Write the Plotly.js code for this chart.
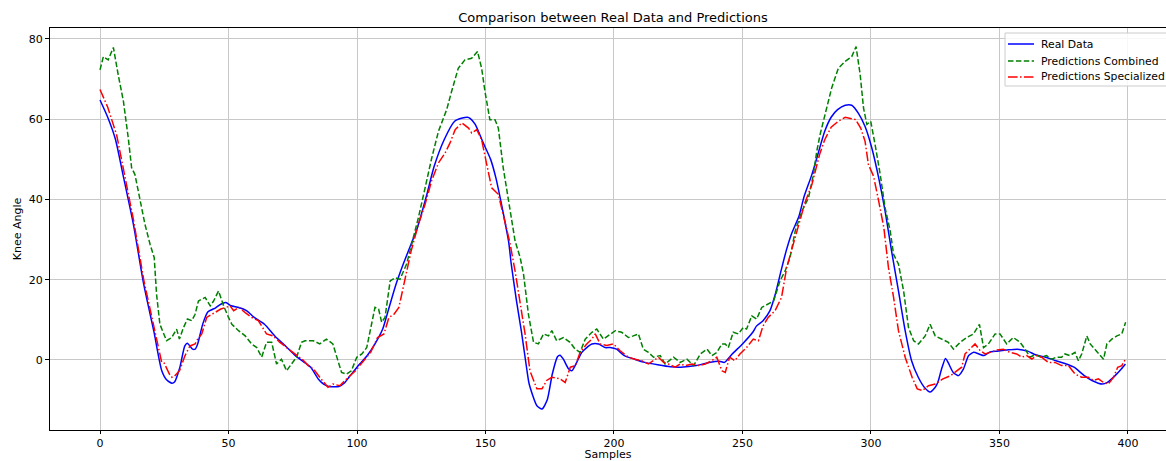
<!DOCTYPE html>
<html>
<head>
<meta charset="utf-8">
<script src="https://cdn.plot.ly/plotly-3.0.1.min.js"></script>
<style>
html,body{margin:0;padding:0;background:#fff;overflow:hidden;}
#chart{width:1166px;height:461px;}
</style>
</head>
<body>
<div id="chart"></div>
<script>
// Real Data (sample index, knee angle)
const realX = [0,3,6,9,13,17,21,24,26,28,29,31,33,34,36,37,38,40,42,45,47,49,51,54,57,60,64,68,72,76,80,82,85,87,89,93,95,97,100,104,107,110,112,115,118,121,123,127,130,134,138,141,143,144,146,149,152,154,156,159,160,162,164,166,167,170,172,174,176,178,179,180.3,182.3,183.6,185.5,187.5,189.4,191.4,194,196.6,198.5,201,204,208,212,217,222,226,232,237,241,243,246,250,254,255.5,258,260.7,262.6,265,267,269,272,274,277,279.5,282,284.5,287,290,292.5,295,297.7,300.3,303,305.5,308,310.7,313.3,315.8,318.4,321,323,325,326,327.5,329,330,332,334,336,338,340,342,344,346,349,353,357,361,364,368,372,376,379,383,386,390,392,395,397.5,399];
const realY = [64.8,60.5,55,46,33.8,18.9,7,-2.6,-5,-5.8,-5.5,-2,3.5,4.2,2.7,2.7,4,9,12,13,13.9,14.3,13.5,13.1,12.3,10.6,8.9,6,3.6,1.1,-0.8,-1.8,-4.8,-6,-6.6,-6.6,-5.8,-4.2,-1.8,1.1,4,7.7,12,18.5,23.9,28.8,32,40.8,48.2,55,59.5,60.3,60.5,60.2,58.7,54.3,50,45.5,39.5,29.5,24,15,7,-2,-6,-11.4,-12.2,-10,-3.5,0.8,1.2,0.2,-2.2,-2.7,-0.6,1.9,3.1,4,4,3.1,3.1,2.7,1.1,0.2,-0.6,-1.2,-1.7,-1.8,-1.4,-0.6,-0.3,-0.6,1.5,4,6.9,8.5,9.8,12.3,16,22.2,27.2,31.3,35.9,40.8,46.2,51.6,57,60.5,62.4,63.5,63.5,61.6,58.2,52.9,45.4,37.1,27.2,17.2,7.3,-0.2,-4.3,-7,-8,-6.8,-5.6,-2.2,0.4,-0.6,-3.1,-3.9,-2.2,1.1,1.9,1.5,1.1,1.9,2.2,2.5,2.7,2.2,1.3,0.7,-0.2,-1,-1.8,-3.9,-5.1,-6,-5.6,-3.9,-2.2,-1];

// Predictions Combined
const combX = [0,1.3,3.2,5.2,7.1,9.1,11,12.3,13.6,15.6,17.5,19.5,21.1,22,23.3,25.9,27.9,29.8,30.9,32.5,34,35.7,37,38.3,40.9,42.9,44.2,46.1,48.1,50,51.3,53.9,56.5,59,61,62.9,64.8,66.8,68.7,70.6,72.6,74.5,76.5,78.4,79.8,83,85.5,88.1,90.6,92.6,94,95.9,97.8,99.9,101.9,103.8,105.1,107,108.4,109.6,110.9,112.9,114.8,116.7,119.3,121.3,123.9,126.5,129.1,131.7,133.6,134.9,136.8,139.4,142,144.6,146.9,148.5,149.8,151.7,153.7,155,156.9,159.5,161.5,163.5,164.8,166.7,168.7,170.6,172.6,174.5,175.8,177.7,180.3,182.9,184.9,186.8,188.8,191.4,193.3,195.9,198.5,200.5,203,205.6,207.5,209.5,211.4,213.4,215.4,218,219.9,223.2,225.8,228.4,231,233.6,236.2,238.1,240,242,243.3,244.5,246.4,248.4,250.3,251.6,253.6,255.5,257.5,260.1,262.1,264.6,266.6,268.5,270.5,273.1,275.7,277.6,278.9,280.2,282.1,284.7,287.3,289.9,292.5,294.2,295.8,297.1,298.4,299.9,301.6,303.6,305.5,307.5,308.8,310.7,312.7,314.6,316.6,318.5,321.1,323,325,327.5,330.1,332.1,334.7,337.3,339.9,342.2,343.8,345.7,348.3,350.2,352.8,355.4,358,360,361.9,363.8,366.4,368.3,370.3,372.2,374.2,375.5,377.4,379.4,380.7,382,384,385.3,387.2,389.2,390.5,391.8,393.7,395.7,397.6,399.1];
const combY = [72.3,75.6,74.8,77.9,71,64.5,55.3,47.9,46.2,39.6,33.8,28.8,25.5,16.4,8.9,4.8,5.6,7.7,5.2,8.1,10.2,9.8,11.4,14.7,15.6,13.5,14.7,17.2,13.5,10.6,8.9,7.3,6,4,3.1,0.7,4.4,4.4,-1,0.2,-2.7,-1,0.7,4.4,4.8,4.8,4,5.2,4,-0.2,-3.1,-3.5,-2.7,0.7,1.5,3.1,7.3,13.1,12.7,9.4,10.6,19.7,20.5,20.1,23.9,28.8,35.5,42.9,50.4,57,60.3,62.4,66.9,72.7,74.8,75.2,76.9,72.7,66.9,59.9,59.9,57.8,47.9,38.1,29.7,25.5,21.4,11.4,4.4,4,6.5,6,7.3,4.8,5.6,4.4,2.7,1.9,5.2,6.9,7.7,5.2,6.5,7.3,6.9,5.6,6,6.5,2.7,1.9,0.7,1.1,-1,0.7,-0.6,0.2,-1.4,1.5,2.7,1.1,1.9,4,4,3.1,6.9,6.5,8.1,7.7,11,10.2,13.1,13.9,14.7,19.7,22.2,25.5,32.1,37.1,40.4,46.2,52,56.2,61.1,67.8,72.7,74.4,75.6,78.1,71.1,62.8,58.7,59.5,53.7,46.2,37.9,32.1,26.3,23.9,17.2,8.1,4.8,4,6,8.9,6,5.2,4.4,2.7,4.4,5.6,6.5,8.9,3.1,4,6.5,6.5,4,5.6,4.4,2.7,0.7,1.3,0.7,1.1,0.2,0.7,0.7,1.5,1.1,1.9,-0.2,1.5,6,4,2.7,1.1,0.2,4,5.2,6,6.5,9.4];

// Predictions Specialized
const specX = [0,3,6.5,10,13,17,21,24,25,27,28,29,31,33,35,37,38,39.6,41.5,43.5,45,47,49,50.6,52,54,56.5,59,61.6,64.8,67.4,70,72.6,76,79,81,83,85.5,88.7,90.6,93.3,96,99.4,102.6,105.3,108,110.5,112.4,114.4,116.3,118.3,121,123.9,126.5,129,131.7,134.3,136.2,138.2,140.8,143.4,144.6,146.6,148.5,150.5,152.4,155,157.6,159.5,161.5,163.5,165.4,167.3,170,172,173.8,175.8,179,181,183,185,186.8,189.4,191.4,192.7,194.6,197.2,199.8,202.4,205.6,208.2,210.8,213.4,215.4,217.3,219.3,221.2,223.8,225.8,227.7,230.3,232.9,235.5,238,240,242,243.3,245,247,249,251.6,254.2,256.2,258,260,262.7,265.2,267.2,269,271.7,274.3,277,278.8,280,282,284.5,287.3,290,292,294,296,297.7,299,301,303,305,306.8,308.8,310.7,313.3,316,318,320,322.4,325,326,328,331,333.4,335.3,336.6,338.6,340.5,342.5,344.4,346.4,349,351.5,354,356.7,358.7,360.6,362.6,364.5,366.4,369,371.6,374.2,376.8,379.4,382,384.6,386.6,388.5,390.5,392.4,394.4,396,397.6,399];
const specY = [67.4,63,56,45,35,20,8.5,-0.6,-0.8,-3.5,-4.3,-4,-2.6,1,3.5,4,5.2,6.5,10.6,11.4,11.8,12.7,13.1,13.5,12.3,13.1,11.8,10.6,9.8,6.5,6,4.4,3.1,1.5,0,-1.4,-2.2,-4.3,-6.8,-6,-6.4,-4.7,-2.7,-0.2,1.9,5.6,6.5,10.6,11.4,13.1,18.9,27,33.8,38.8,44.6,49.1,51.6,54.1,57.4,59.1,57.8,56.6,57.4,54.9,48.7,42.9,41.3,34.6,29.2,22.2,14.7,6.5,-2.7,-7.2,-7.2,-5.1,-4.3,-4.7,-5.6,-1.8,-1.4,1.9,4,5.2,6.5,4,3.6,4,2.3,0.7,0.2,-0.2,-1,-0.2,0.7,-0.6,-1,-1.8,-1,-1.4,-1,-1.4,-1,-0.2,0.7,-2.7,-3.1,0.7,-0.2,1.5,3.1,5.2,4.8,8.5,10.6,12.3,15.6,23,27.2,33,39.2,43.7,48.7,51.2,54.9,58,59.5,60.5,60.2,59.9,57.8,54.5,48.7,45.8,39.6,33,23,15.6,7.3,0.7,-4.3,-7.2,-7.6,-6.4,-6,-5.6,-4.7,-3.9,-2.7,-1.8,1.5,2.7,4,2.3,1.5,1.9,2.5,2.7,1.9,1.5,0.7,1.1,0.2,1.1,0.7,-0.6,-0.6,-1.4,-1.4,-3.5,-4.3,-4.3,-5.1,-4.7,-5.6,-6,-4.3,-1.8,-1.4,0.2];

const seriesNames = ['Real Data', 'Predictions Combined', 'Predictions Specialized'];
const seriesColors = ['#0000ff', '#008000', '#ff0000'];
const seriesDash = ['solid', '5.5px,2.4px', '9.6px,2.4px,1.5px,2.4px'];

const xTicks = [0,50,100,150,200,250,300,350,400];
const yTicks = [0,20,40,60,80];

const FONT = 'DejaVu Sans, sans-serif';

const traces = [
  {x: realX, y: realY, name: seriesNames[0], mode: 'lines',
   line: {color: seriesColors[0], width: 1.5, shape: 'spline', smoothing: 0.6}},
  {x: combX, y: combY, name: seriesNames[1], mode: 'lines',
   line: {color: seriesColors[1], width: 1.5, dash: seriesDash[1]}},
  {x: specX, y: specY, name: seriesNames[2], mode: 'lines',
   line: {color: seriesColors[2], width: 1.5, dash: seriesDash[2]}}
];

// Legend box (matplotlib-style, compact rows), built in paper coordinates
const PW = 1116, PH = 402, L = 50, T = 28;
const px2x = p => (p - L) / PW;
const py2y = p => (T + PH - p) / PH;
const rowY = [44, 61, 77];
const shapes = [{
  type: 'rect', xref: 'paper', yref: 'paper', layer: 'above',
  x0: px2x(1005), x1: px2x(1190), y0: py2y(86), y1: py2y(33),
  line: {color: '#cccccc', width: 1}, fillcolor: 'rgba(255,255,255,0.85)'
}];
const annotations = [];
seriesNames.forEach((n, i) => {
  shapes.push({type: 'line', xref: 'paper', yref: 'paper', layer: 'above',
    x0: px2x(1008), x1: px2x(1034), y0: py2y(rowY[i]), y1: py2y(rowY[i]),
    line: {color: seriesColors[i], width: 1.5, dash: seriesDash[i]}});
  annotations.push({xref: 'paper', yref: 'paper', x: px2x(1039), y: py2y(rowY[i]),
    xanchor: 'left', yanchor: 'middle', showarrow: false, text: n,
    font: {family: FONT, size: 10.8, color: '#000'}});
});

const layout = {
  width: 1166, height: 461,
  margin: {l: 50, r: 0, t: 28, b: 31, pad: 0, autoexpand: false},
  paper_bgcolor: '#ffffff', plot_bgcolor: '#ffffff',
  font: {family: FONT, size: 11, color: '#000'},
  title: {text: 'Comparison between Real Data and Predictions',
          font: {family: FONT, size: 13, color: '#000'},
          x: 613/1166, xref: 'container', xanchor: 'center', y: 0.963, yref: 'container', yanchor: 'middle',
          automargin: false},
  xaxis: {range: [-19.46, 414.8], tickvals: xTicks, ticktext: xTicks.map(String),
          showgrid: true, gridcolor: '#c8c8c8', gridwidth: 1, zeroline: false,
          showline: true, linecolor: '#000', linewidth: 1, mirror: true,
          ticks: 'outside', ticklen: 3, tickcolor: '#000', tickfont: {size: 11},
          automargin: false,
          title: {text: 'Samples', font: {size: 11}, standoff: 3}},
  yaxis: {range: [-17.45, 82.74], tickvals: yTicks, ticktext: yTicks.map(String),
          showgrid: true, gridcolor: '#c8c8c8', gridwidth: 1, zeroline: false,
          showline: true, linecolor: '#000', linewidth: 1, mirror: false,
          ticks: 'outside', ticklen: 4, tickcolor: '#000', tickfont: {size: 11},
          automargin: false,
          title: {text: 'Knee Angle', font: {size: 11}, standoff: 4}},
  showlegend: false,
  shapes: shapes,
  annotations: annotations
};

Plotly.newPlot('chart', traces, layout, {displayModeBar: false, staticPlot: true});
</script>
</body>
</html>
